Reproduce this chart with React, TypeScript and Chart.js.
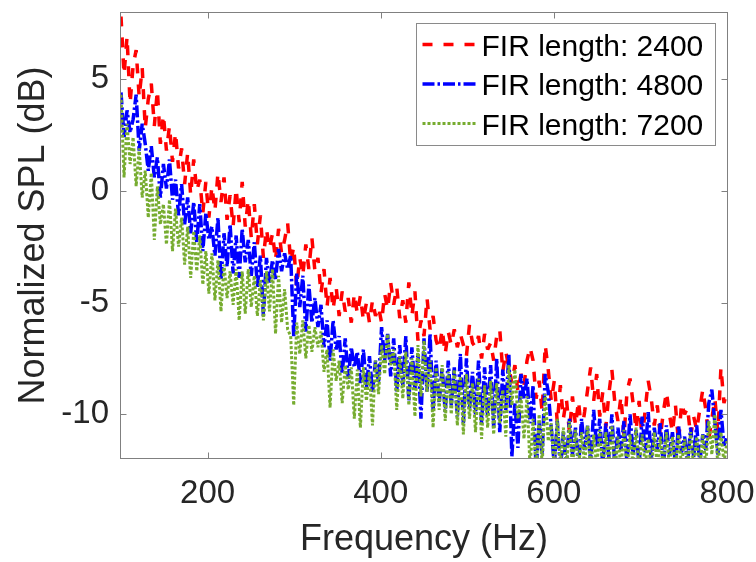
import React, { useEffect, useRef } from 'react';
import { Chart, registerables } from 'chart.js';

Chart.register(...registerables);

// Frequency grid (Hz): first bin and spacing of the plotted samples
const START_HZ = 100;
const STEP_HZ = 3.5;
const X_RANGE = [100, 800];
const Y_RANGE = [-12, 8];
const X_TICKS = [200, 400, 600, 800];
const Y_TICKS = [-10, -5, 0, 5];
const SERIES_LABELS = ['FIR length: 2400', 'FIR length: 4800', 'FIR length: 7200'];
const X_TITLE = 'Frequency (Hz)';
const Y_TITLE = 'Normalized SPL (dB)';

// Normalized SPL (dB), one value every STEP_HZ from START_HZ
const FIR_2400 = [
  7.8, 5.2, 6.9, 3.9, 5.6, 6.3, 4.2, 5.5, 2.8, 4.1,
  4.8, 2.9, 4.5, 2.1, 3.4, 1.8, 2.9, 1.3, 2.6, 1.0,
  1.9, 0.3, 1.7, -0.2, 1.4, 0.0, 0.5, -1.0, 0.4, -1.2,
  0.2, -0.9, 0.8, -0.5, 0.6, -1.3, -0.2, -1.6, 0.1, -1.4,
  0.4, -1.6, -0.4, -2.1, -0.6, -2.4, -1.1, -3.0, -1.7, -2.6,
  -1.9, -3.1, -1.7, -2.8, -2.2, -1.45, -3.2, -2.5, -4.3, -3.0,
  -3.8, -2.4, -3.5, -2.1, -3.6, -3.0, -4.6, -3.5, -5.2, -3.9,
  -5.3, -4.3, -5.6, -4.5, -5.4, -4.8, -5.9, -4.6, -5.5, -4.7,
  -5.8, -5.0, -5.9, -4.9, -5.6, -5.2, -5.9, -4.6, -5.3, -4.1,
  -5.1, -4.3, -5.7, -4.9, -5.9, -4.1, -5.6, -4.5, -6.7, -5.8,
  -6.5, -4.8, -6.2, -5.6, -6.7, -7.1, -6.2, -7.3, -6.3, -6.9,
  -6.2, -7.0, -6.4, -6.9, -7.4, -6.0, -6.8, -7.0, -6.5, -7.5,
  -6.4, -7.1, -6.8, -7.6, -6.5, -6.2, -8.1, -7.2, -7.9, -8.6,
  -7.8, -9.0, -8.2, -8.7, -7.6, -7.0, -7.6, -9.3, -8.5, -9.9,
  -6.9, -8.0, -9.4, -8.5, -10.4, -8.7, -10.2, -9.3, -10.8, -9.2,
  -10.5, -9.4, -10.8, -9.9, -8.9, -7.9, -9.4, -8.2, -10.1, -9.0,
  -10.6, -9.1, -8.0, -9.5, -10.3, -9.2, -11.0, -9.0, -8.4, -9.5,
  -10.7, -9.4, -11.2, -9.8, -8.5, -9.3, -10.5, -9.6, -11.0, -9.9,
  -9.0, -10.0, -10.8, -9.6, -11.3, -9.5, -10.0, -9.7, -11.0, -10.1,
  -10.7, -9.8, -8.9, -9.8, -11.1, -10.2, -9.3, -10.8, -7.9, -9.5,
  -9.0,
];

const FIR_4800 = [
  4.4, 2.4, 3.6, 2.6, 3.2, 4.3, 1.8, 3.0, 2.1, 0.9,
  2.0, 0.6, 1.5, -0.3, 1.2, 0.1, 1.4, -0.4, 0.5, -1.1,
  0.3, -1.5, -0.3, -1.9, -0.5, -2.3, -0.6, -2.7, -1.0, -2.2,
  -1.6, -2.9, -1.2, -4.0, -1.9, -3.4, -1.5, -3.7, -2.0, -3.9,
  -1.7, -3.2, -2.2, -3.8, -2.3, -4.3, -2.9, -5.6, -3.0, -4.1,
  -3.1, -4.0, -2.6, -3.6, -2.8, -3.5, -2.9, -6.5, -3.7, -5.2,
  -3.8, -6.3, -4.2, -5.9, -4.8, -6.1, -5.1, -7.0, -5.8, -7.6,
  -5.8, -7.1, -6.5, -8.2, -6.6, -8.4, -7.0, -7.9, -7.2, -8.6,
  -7.1, -8.8, -7.4, -9.0, -7.6, -8.6, -6.1, -7.6, -6.4, -8.3,
  -6.6, -9.0, -6.9, -8.7, -6.5, -9.4, -7.0, -8.9, -7.3, -10.2,
  -6.6, -9.0, -6.4, -9.8, -7.6, -9.5, -7.9, -9.9, -7.6, -9.6,
  -7.9, -10.1, -7.3, -10.4, -7.5, -9.8, -8.1, -10.0, -7.6, -10.4,
  -7.9, -10.1, -7.8, -10.6, -7.5, -10.8, -8.0, -9.8, -7.3, -11.9,
  -9.5, -11.5, -8.2, -9.3, -8.4, -10.4, -8.7, -12.5, -10.4, -11.8,
  -8.2, -9.0, -10.6, -12.3, -10.3, -12.5, -10.8, -12.3, -10.2, -11.8,
  -10.6, -12.4, -10.2, -11.6, -10.5, -12.2, -9.8, -11.5, -10.2, -12.3,
  -10.4, -11.9, -10.0, -12.4, -10.6, -11.6, -10.3, -12.2, -10.0, -11.8,
  -10.7, -12.3, -10.1, -11.7, -9.9, -12.1, -10.6, -11.6, -10.4, -12.4,
  -10.5, -11.8, -10.8, -12.3, -10.5, -11.7, -11.0, -12.2, -10.6, -11.9,
  -10.5, -12.2, -10.9, -11.6, -9.5, -8.9, -10.4, -11.8, -9.8, -11.4,
  -11.0,
];

const FIR_7200 = [
  4.3, 0.6, 3.0, 1.2, 2.4, 0.2, 1.9, -0.3, 0.9, -1.2,
  0.8, -2.2, 0.2, -1.5, -0.6, -2.4, -0.4, -2.7, -0.8, -2.5,
  -1.2, -3.3, -1.6, -3.9, -1.8, -3.6, -2.0, -4.2, -2.7, -4.6,
  -2.8, -4.9, -3.1, -5.4, -3.3, -4.8, -3.6, -5.1, -3.5, -5.8,
  -3.6, -5.5, -3.5, -5.2, -3.8, -5.6, -4.0, -5.8, -3.6, -5.4,
  -3.5, -6.4, -3.8, -5.9, -4.4, -6.2, -6.5, -9.6, -5.9, -7.3,
  -5.8, -7.5, -6.0, -7.2, -6.1, -7.0, -6.3, -8.1, -7.1, -9.7,
  -7.1, -8.5, -7.6, -9.5, -7.8, -8.9, -7.9, -10.2, -8.0, -10.6,
  -7.9, -9.4, -8.1, -10.5, -7.6, -9.1, -6.9, -8.2, -6.4, -7.8,
  -7.1, -9.8, -7.4, -9.3, -7.2, -9.6, -7.5, -10.1, -6.9, -9.2,
  -6.7, -9.0, -7.6, -10.6, -7.9, -9.8, -7.8, -10.3, -8.1, -10.0,
  -8.0, -10.5, -8.3, -10.9, -8.2, -10.2, -8.6, -10.8, -8.4, -11.1,
  -8.7, -10.6, -8.5, -10.9, -8.6, -10.4, -8.9, -11.0, -7.8, -9.6,
  -8.0, -10.2, -9.2, -11.1, -9.2, -12.4, -10.2, -12.6, -10.0, -12.3,
  -9.1, -11.2, -10.4, -12.5, -10.2, -12.3, -10.6, -12.6, -10.3, -12.4,
  -10.7, -12.5, -10.8, -12.3, -10.5, -12.6, -10.9, -12.4, -10.7, -12.5,
  -10.8, -12.3, -10.5, -12.6, -11.0, -12.4, -10.7, -12.5, -10.9, -12.3,
  -10.6, -12.5, -10.9, -12.3, -11.1, -12.6, -10.8, -12.4, -11.0, -12.5,
  -10.8, -12.4, -11.0, -12.6, -10.9, -12.3, -11.1, -12.5, -10.8, -12.4,
  -11.0, -12.5, -10.9, -12.3, -10.3, -11.8, -10.0, -12.4, -10.8, -12.2,
  -11.2,
];

const FREQS = FIR_2400.map((_, i) => START_HZ + i * STEP_HZ);

const FONT = "'Liberation Sans', Arial, Helvetica, sans-serif";
const AXIS_COLOR = '#262626';
const FRAME_COLOR = '#808080';

const toPoints = (vals: number[]) => vals.map((y, i) => ({ x: FREQS[i], y }));

const framePlugin = {
  id: 'matlabFrame',
  afterDatasetsDraw(chart: any) {
    const { ctx, chartArea: a, scales } = chart;
    const L = Math.round(a.left) - 0.5;
    const R = Math.round(a.right) + 0.5;
    const T = Math.round(a.top) + 0.5;
    const B = Math.round(a.bottom) - 0.5;
    ctx.save();
    ctx.setLineDash([]);
    ctx.strokeStyle = FRAME_COLOR;
    ctx.lineWidth = 1;
    ctx.strokeRect(L, T, R - L, B - T);
    const tl = 6;
    ctx.beginPath();
    X_TICKS.forEach((v) => {
      const px = Math.round(scales.x.getPixelForValue(v)) + 0.5;
      ctx.moveTo(px, B); ctx.lineTo(px, B - tl);
      ctx.moveTo(px, T); ctx.lineTo(px, T + tl);
    });
    Y_TICKS.forEach((v) => {
      const py = Math.round(scales.y.getPixelForValue(v)) + 0.5;
      ctx.moveTo(L, py); ctx.lineTo(L + tl, py);
      ctx.moveTo(R, py); ctx.lineTo(R - tl, py);
    });
    ctx.stroke();
    ctx.restore();
  },
  afterDraw(chart: any) {
    const { ctx, chartArea: a } = chart;
    const boxW = 299;
    const boxH = 122;
    const bx = Math.round(a.right) - 12 - boxW + 0.5;
    const by = Math.round(a.top) + 11 + 0.5;
    ctx.save();
    ctx.setLineDash([]);
    ctx.fillStyle = '#ffffff';
    ctx.fillRect(bx, by, boxW, boxH);
    ctx.strokeStyle = '#8a8a8a';
    ctx.lineWidth = 1;
    ctx.strokeRect(bx, by, boxW, boxH);
    const ds = chart.data.datasets;
    ds.forEach((d: any, i: number) => {
      const rowY = by + 21 + i * 39.5;
      ctx.beginPath();
      ctx.strokeStyle = d.borderColor;
      ctx.lineWidth = d.borderWidth;
      ctx.setLineDash(d.borderDash || []);
      ctx.lineCap = 'butt';
      ctx.moveTo(bx + 6, rowY);
      ctx.lineTo(bx + 61, rowY);
      ctx.stroke();
      ctx.setLineDash([]);
      ctx.fillStyle = '#000000';
      ctx.font = `30px ${FONT}`;
      ctx.textBaseline = 'middle';
      ctx.textAlign = 'left';
      ctx.fillText(d.label, bx + 65, rowY + 3);
    });
    ctx.restore();
  },
};

export default function App() {
  const ref = useRef<HTMLCanvasElement | null>(null);

  useEffect(() => {
    if (!ref.current) return;
    const chart = new Chart(ref.current, {
      type: 'line',
      data: {
        datasets: [
          {
            label: SERIES_LABELS[0],
            data: toPoints(FIR_2400),
            borderColor: '#ff0000',
            borderWidth: 3.5,
            borderDash: [10, 11],
            order: 3,
          },
          {
            label: SERIES_LABELS[1],
            data: toPoints(FIR_4800),
            borderColor: '#0000ff',
            borderWidth: 3.5,
            borderDash: [12, 3, 2.5, 3],
            order: 2,
          },
          {
            label: SERIES_LABELS[2],
            data: toPoints(FIR_7200),
            borderColor: '#77ac30',
            borderWidth: 3,
            borderDash: [3, 2],
            order: 1,
          },
        ].map((d) => ({
          ...d,
          pointRadius: 0,
          tension: 0,
          fill: false,
          borderJoinStyle: 'bevel' as const,
          clip: 0,
        })),
      },
      options: {
        animation: false,
        responsive: false,
        devicePixelRatio: 1,
        layout: { padding: { left: 0, top: 12, right: 29, bottom: 0 } },
        plugins: {
          legend: { display: false },
          tooltip: { enabled: false },
        },
        scales: {
          x: {
            type: 'linear',
            min: X_RANGE[0],
            max: X_RANGE[1],
            grid: { display: false, drawTicks: false },
            border: { display: false },
            ticks: {
              color: AXIS_COLOR,
              font: { family: FONT, size: 33 },
              padding: 15,
              maxRotation: 0,
            },
            title: {
              display: true,
              text: X_TITLE,
              color: AXIS_COLOR,
              font: { family: FONT, size: 36 },
              padding: { top: 0, bottom: 0 },
            },
            afterBuildTicks: (s: any) => {
              s.ticks = X_TICKS.map((v) => ({ value: v }));
            },
            afterFit: (s: any) => {
              s.height = 103;
              s.paddingLeft = 0;
              s.paddingRight = 0;
            },
          },
          y: {
            type: 'linear',
            min: Y_RANGE[0],
            max: Y_RANGE[1],
            grid: { display: false, drawTicks: false },
            border: { display: false },
            ticks: {
              color: AXIS_COLOR,
              font: { family: FONT, size: 33 },
              padding: 12,
            },
            title: {
              display: true,
              text: Y_TITLE,
              color: AXIS_COLOR,
              font: { family: FONT, size: 36 },
              padding: { top: 12, bottom: 0 },
            },
            afterBuildTicks: (s: any) => {
              s.ticks = Y_TICKS.map((v) => ({ value: v }));
            },
            afterFit: (s: any) => {
              s.width = 121;
              s.paddingTop = 0;
              s.paddingBottom = 0;
            },
          },
        },
      },
      plugins: [framePlugin],
    });
    return () => chart.destroy();
  }, []);

  return (
    <div style={{ position: 'fixed', left: 0, top: 0, width: 756, height: 562, background: '#ffffff' }}>
      <canvas ref={ref} width={756} height={562} style={{ display: 'block' }} />
    </div>
  );
}
